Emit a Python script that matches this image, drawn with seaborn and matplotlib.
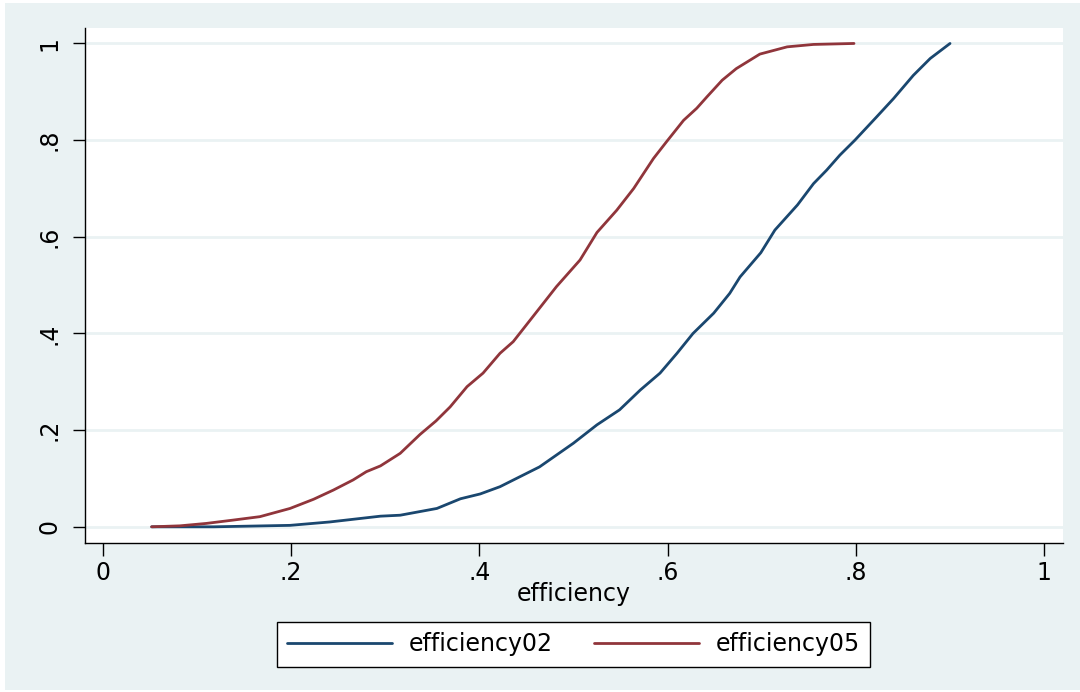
import matplotlib
matplotlib.use("Agg")
import matplotlib.pyplot as plt
import seaborn as sns
import pandas as pd
from matplotlib.patches import Rectangle
from matplotlib.lines import Line2D

# Cumulative distribution of efficiency scores
eff05_x = [0.052, 0.082, 0.110, 0.139, 0.167, 0.199, 0.224, 0.245, 0.266, 0.280,
           0.295, 0.316, 0.337, 0.354, 0.369, 0.387, 0.404, 0.422, 0.436, 0.457,
           0.482, 0.507, 0.525, 0.546, 0.564, 0.585, 0.599, 0.617, 0.631, 0.642,
           0.658, 0.673, 0.688, 0.698, 0.727, 0.755, 0.798]
eff05_y = [0.000, 0.002, 0.007, 0.014, 0.021, 0.038, 0.057, 0.076, 0.097, 0.114,
           0.126, 0.152, 0.191, 0.219, 0.248, 0.290, 0.318, 0.359, 0.383, 0.435,
           0.497, 0.552, 0.609, 0.655, 0.700, 0.762, 0.797, 0.841, 0.866, 0.890,
           0.924, 0.948, 0.966, 0.978, 0.993, 0.998, 1.000]

eff02_x = [0.052, 0.118, 0.199, 0.241, 0.295, 0.316, 0.355, 0.380, 0.401, 0.422,
           0.464, 0.500, 0.525, 0.549, 0.571, 0.592, 0.610, 0.627, 0.649, 0.666,
           0.677, 0.699, 0.714, 0.738, 0.755, 0.769, 0.783, 0.799, 0.822, 0.840,
           0.861, 0.879, 0.900]
eff02_y = [0.000, 0.000, 0.003, 0.010, 0.022, 0.024, 0.038, 0.058, 0.068, 0.083,
           0.124, 0.173, 0.211, 0.242, 0.283, 0.318, 0.359, 0.400, 0.442, 0.483,
           0.517, 0.567, 0.614, 0.666, 0.710, 0.738, 0.769, 0.800, 0.848, 0.886,
           0.934, 0.969, 1.000]

series_names = ["efficiency02", "efficiency05"]
tick_vals = [0, 0.2, 0.4, 0.6, 0.8, 1]
tick_labels = ["0", ".2", ".4", ".6", ".8", "1"]

df = pd.concat([
    pd.DataFrame({"x": eff02_x, "y": eff02_y, "series": series_names[0]}),
    pd.DataFrame({"x": eff05_x, "y": eff05_y, "series": series_names[1]}),
])

sns.set_style("white")
plt.rcParams["font.family"] = ["DejaVu Sans"]
plt.rcParams["text.color"] = "black"
plt.rcParams["axes.labelcolor"] = "black"
plt.rcParams["xtick.color"] = "black"
plt.rcParams["ytick.color"] = "black"

FS = 17
BG = "#EAF2F3"
colors = {"efficiency02": "#1A476F", "efficiency05": "#90353B"}

fig = plt.figure(figsize=(10.8, 6.92), dpi=100)
fig.patch.set_facecolor("white")
fig.patches.append(Rectangle((5 / 1080, 2 / 692), 1 - 5 / 1080, 1 - 5 / 692,
                             transform=fig.transFigure, facecolor=BG,
                             edgecolor="none", zorder=-10))

ax = fig.add_axes([85 / 1080, 1 - 543 / 692, (1063 - 85) / 1080, (543 - 28) / 692])
ax.set_facecolor("white")

for v in tick_vals:
    ax.axhline(v, color=BG, lw=2.0, zorder=0)

sns.lineplot(data=df, x="x", y="y", hue="series", palette=colors,
             linewidth=2.0, ax=ax, legend=False, sort=False, estimator=None)

ax.set_xlim(-0.0188, 1.02)
ax.set_ylim(-0.0335, 1.032)

ax.set_xticks(tick_vals)
ax.set_xticklabels(tick_labels, fontsize=FS, color="black")
ax.set_yticks(tick_vals)
ax.set_yticklabels(tick_labels, fontsize=FS, rotation=90, va="center",
                   color="black")
ax.tick_params(axis="both", direction="out", length=9, width=1, color="black",
               labelcolor="black", bottom=True, left=True, top=False,
               right=False)
ax.tick_params(axis="x", pad=4)
ax.tick_params(axis="y", pad=8)

for side in ["top", "right"]:
    ax.spines[side].set_visible(False)
for side in ["left", "bottom"]:
    ax.spines[side].set_visible(True)
    ax.spines[side].set_color("black")
    ax.spines[side].set_linewidth(1.0)

ax.set_xlabel("efficiency", fontsize=FS, labelpad=-2, color="black")
ax.set_ylabel("")

handles = [Line2D([0], [0], color=colors[n], lw=2.0) for n in series_names]
leg = fig.legend(handles, series_names, loc="center",
                 bbox_to_anchor=(573.5 / 1080, 1 - 644.5 / 692), ncol=2,
                 fontsize=FS, frameon=True, fancybox=False, handlelength=4.45,
                 handletextpad=0.68, columnspacing=1.78, borderpad=0.45,
                 borderaxespad=0, edgecolor="black", framealpha=1.0)
leg.get_frame().set_linewidth(1.0)
leg.get_frame().set_facecolor("white")
for t in leg.get_texts():
    t.set_color("black")

fig.savefig("out.png", dpi=100, facecolor=fig.get_facecolor())
